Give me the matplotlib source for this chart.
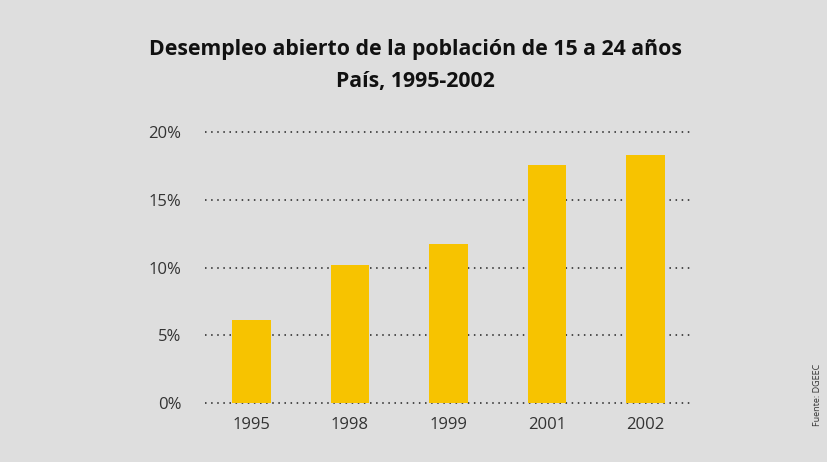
import matplotlib.pyplot as plt

# datos
years = ['1995', '1998', '1999', '2001', '2002']
desempleo = [6.1, 10.2, 11.7, 17.6, 18.3]
yticks = [0, 5, 10, 15, 20]
ytick_labels = ['0%', '5%', '10%', '15%', '20%']

bg = '#dedede'
amarillo = '#f7c300'

plt.rcParams['font.family'] = ['Open Sans', 'DejaVu Sans']

fig = plt.figure(figsize=(8.28, 4.62), dpi=100, facecolor=bg)
ax = fig.add_axes([205 / 828, 59 / 462, 487 / 828, 271 / 462])
ax.set_facecolor(bg)

x = list(range(len(years)))
ax.set_axisbelow(True)
ax.yaxis.grid(True, linestyle=(0, (1, 3)), color='#222222', linewidth=1.1)
ax.bar(x, desempleo, width=0.39, color=amarillo, zorder=3)

ax.set_xlim(-0.47, 4.47)
ax.set_ylim(0, 20)
ax.set_xticks(x)
ax.set_xticklabels(years)
ax.set_yticks(yticks)
ax.set_yticklabels(ytick_labels)
ax.tick_params(length=0, labelsize=12, colors='#333333', pad=17)
ax.tick_params(axis='x', pad=10)
for s in ax.spines.values():
    s.set_visible(False)
for gl in ax.get_ygridlines():
    gl.set_clip_on(False)

fig.text(415 / 828, 1 - 50 / 462, 'Desempleo abierto de la población de 15 a 24 años',
         ha='center', va='center', fontsize=15.3, fontweight='bold', color='#111111')
fig.text(415 / 828, 1 - 81 / 462, 'País, 1995-2002',
         ha='center', va='center', fontsize=15.3, fontweight='bold', color='#111111')

fig.text(818 / 828, 1 - 395 / 462, 'Fuente: DGEEC', rotation=90,
         ha='center', va='center', fontsize=6.5, color='#333333')

fig.savefig('out.png', dpi=100, facecolor=bg)
